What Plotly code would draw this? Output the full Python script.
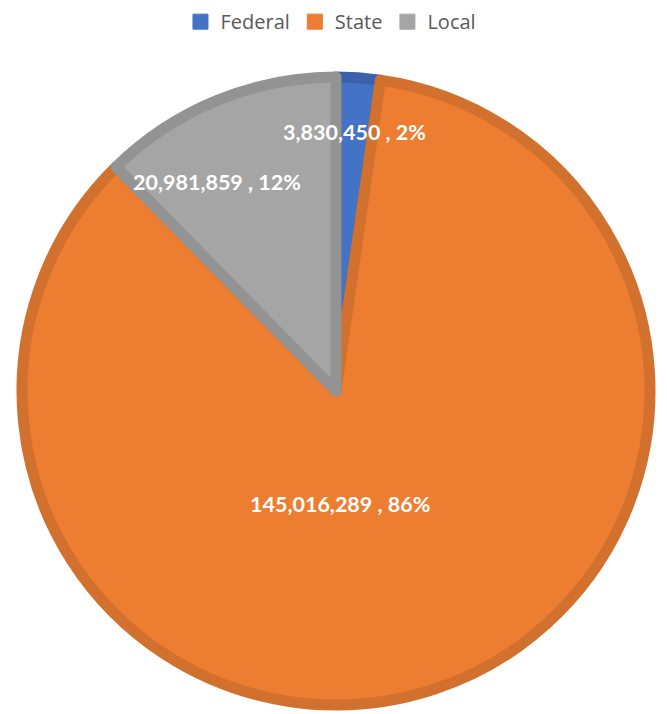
import plotly.graph_objects as go

categories = ["Federal", "State", "Local"]
values = [3830450, 145016289, 20981859]
fill_colors = ["#4472C4", "#ED7D31", "#A5A5A5"]
border_colors = ["#3A62AC", "#D2702E", "#939393"]

total = sum(values)
# percentages rounded with largest-remainder so they sum to 100 (as Excel shows)
raw = [100 * v / total for v in values]
pcts = [int(r) for r in raw]
order = sorted(range(len(raw)), key=lambda i: raw[i] - pcts[i], reverse=True)
for i in order[: 100 - sum(pcts)]:
    pcts[i] += 1
labels_text = [f"{v:,} , {p}%" for v, p in zip(values, pcts)]

# label anchor positions (paper coords) chosen to mimic the reference
label_pos = [(0.530, 0.912), (0.5056, 0.320), (0.3105, 0.833)]

fig = go.Figure()
fig.add_trace(go.Pie(
    labels=categories,
    values=values,
    sort=False,
    direction="clockwise",
    rotation=0,
    textinfo="none",
    hoverinfo="label+value+percent",
    showlegend=False,
    marker=dict(colors=fill_colors, line=dict(color=border_colors, width=11)),
))
for name, col in zip(categories, fill_colors):
    fig.add_trace(go.Scatter(
        x=[None], y=[None], mode="markers", name=name,
        marker=dict(symbol="square", size=15, color=col, line=dict(color=col, width=1)),
        showlegend=True, hoverinfo="skip",
    ))

annotations = []
for t, (x, y) in zip(labels_text, label_pos):
    annotations.append(dict(
        text=t, x=x, y=y, xref="paper", yref="paper", showarrow=False,
        xanchor="center", yanchor="middle",
        font=dict(family="Lato", size=21.5, color="white", weight="bold"),
    ))

fig.update_layout(
    width=667, height=714,
    margin=dict(l=22, r=17, t=77, b=9),
    paper_bgcolor="white", plot_bgcolor="white",
    showlegend=True,
    xaxis=dict(visible=False), yaxis=dict(visible=False),
    legend=dict(orientation="h", x=0.492, xanchor="center", y=0.997, yanchor="top",
                yref="container", font=dict(family="Open Sans", size=20, color="#595959"),
                itemclick=False, itemdoubleclick=False, itemsizing="trace"),
    annotations=annotations,
)
fig.write_html("out.html")
